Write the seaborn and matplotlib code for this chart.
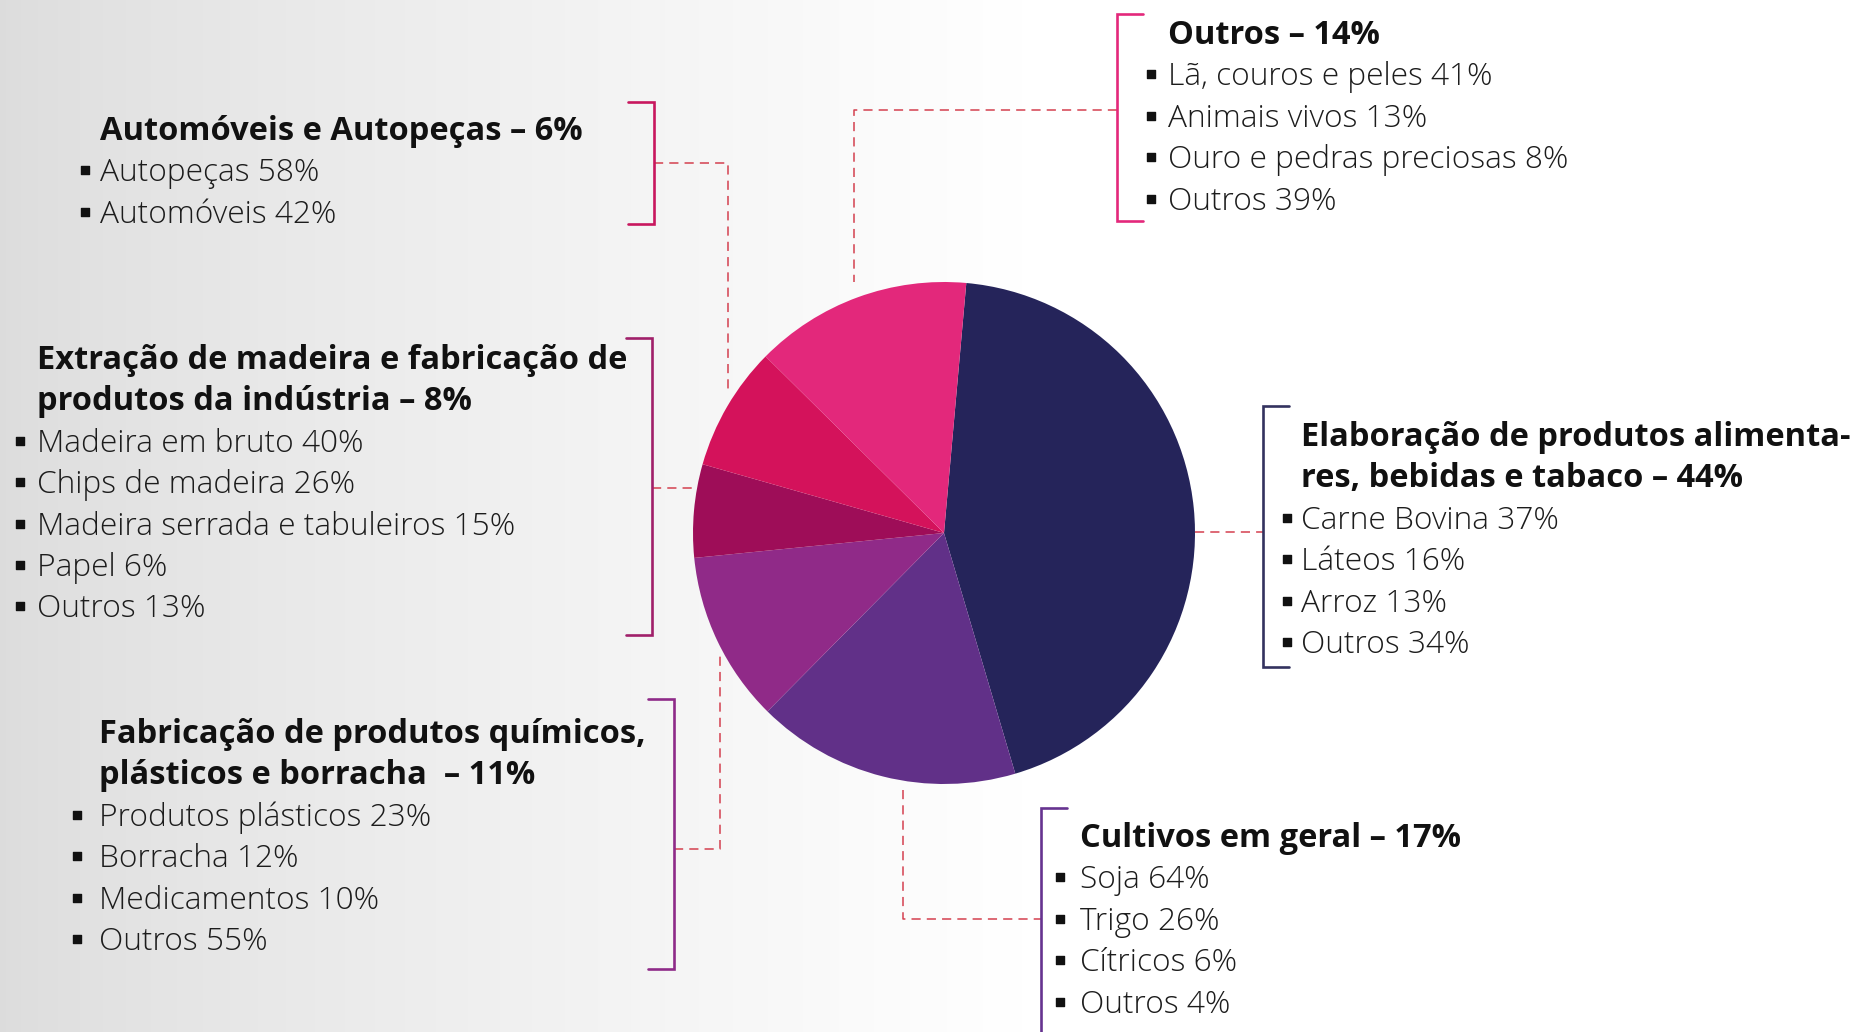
import numpy as np
import matplotlib.pyplot as plt
import seaborn as sns

sns.set_theme(style="white")
plt.rcParams["font.family"] = ["Open Sans", "DejaVu Sans"]

W, H = 1855, 1032

# slices, clockwise from the top
sectors = ["Elaboração de produtos alimentares, bebidas e tabaco", "Cultivos em geral",
           "Fabricação de produtos químicos, plásticos e borracha", "Automóveis e Autopeças",
           "Extração de madeira e fabricação de produtos da indústria", "Outros"]
shares = [44, 17, 11, 6, 8, 14]
pie_colors = ["#25245a", "#613088", "#902a88", "#9e0d58", "#d4125b", "#e3287b"]

outros_head = ["Outros – 14%"]
outros_items = ["Lã, couros e peles 41%", "Animais vivos 13%", "Ouro e pedras preciosas 8%", "Outros 39%"]

auto_head = ["Automóveis e Autopeças – 6%"]
auto_items = ["Autopeças 58%", "Automóveis 42%"]

madeira_head = ["Extração de madeira e fabricação de", "produtos da indústria – 8%"]
madeira_items = ["Madeira em bruto 40%", "Chips de madeira 26%", "Madeira serrada e tabuleiros 15%",
                 "Papel 6%", "Outros 13%"]

quimicos_head = ["Fabricação de produtos químicos,", "plásticos e borracha  – 11%"]
quimicos_items = ["Produtos plásticos 23%", "Borracha 12%", "Medicamentos 10%", "Outros 55%"]

alimentos_head = ["Elaboração de produtos alimenta-", "res, bebidas e tabaco – 44%"]
alimentos_items = ["Carne Bovina 37%", "Láteos 16%", "Arroz 13%", "Outros 34%"]

cultivos_head = ["Cultivos em geral – 17%"]
cultivos_items = ["Soja 64%", "Trigo 26%", "Cítricos 6%", "Outros 4%"]

fig = plt.figure(figsize=(W / 100, H / 100), dpi=100)
ax = fig.add_axes([0, 0, 1, 1])

# grey-to-white background
xs = np.linspace(0, 1, 600)
g = 0.865 + 0.135 * np.clip(xs / 0.55, 0, 1) ** 0.8
bg = np.dstack([g, g, g]).reshape(1, -1, 3)
ax.imshow(bg, extent=[0, W, 0, H], aspect="auto", interpolation="bilinear", zorder=0)

pal = sns.color_palette(pie_colors)
ax.pie(shares, colors=pal, startangle=84.9, counterclock=False,
       center=(944, H - 533), radius=251, wedgeprops=dict(linewidth=0), frame=False)
ax.set_xlim(0, W)
ax.set_ylim(0, H)
ax.set_aspect("auto")
ax.axis("off")

LINE = 41.4
FS_HEAD = 23.5
FS_ITEM = 22.8
dash_col = "#d4404f"


def block(x, y0, head, items, bdx):
    y = y0
    for line in head:
        ax.text(x, H - y - 12, line, fontsize=FS_HEAD, fontweight="bold", color="#111111",
                va="baseline", ha="left", zorder=5)
        y += LINE
    for it in items:
        ax.text(x, H - y - 12, it, fontsize=FS_ITEM, fontweight="light", color="#1c1c1c",
                va="baseline", ha="left", zorder=5)
        ax.scatter([x - bdx], [H - y - 1], marker="s", s=26, color="#111111", zorder=5)
        y += LINE


def bracket(x, y0, y1, tick, color):
    ax.plot([x + tick, x, x, x + tick], [H - y0, H - y0, H - y1, H - y1],
            color=color, lw=1.9, solid_joinstyle="miter", zorder=4)


def dashed(px, py):
    ax.plot(px, [H - v for v in py], color=dash_col, lw=1.1, dashes=(6, 4), zorder=3)


block(1168, 32, outros_head, outros_items, 17)
block(100, 128, auto_head, auto_items, 15)
block(37, 357, madeira_head, madeira_items, 17)
block(99, 731, quimicos_head, quimicos_items, 22)
block(1301, 434, alimentos_head, alimentos_items, 14)
block(1080, 835, cultivos_head, cultivos_items, 20)

bracket(1117, 14, 221, 26, "#e3287b")
bracket(654, 102, 224, -26, "#c8175e")
bracket(652, 338, 635, -26, "#a0206a")
bracket(674, 699, 969, -26, "#8e2a88")
bracket(1263, 406, 667, 26, "#33325f")
bracket(1041, 808, 1045, 26, "#663390")

dashed([1117, 854, 854], [110, 110, 282])
dashed([654, 728, 728], [163, 163, 390])
dashed([652, 694], [488, 488])
dashed([674, 720, 720], [849, 849, 656])
dashed([1195, 1263], [532, 532])
dashed([903, 903, 1041], [790, 919, 919])

fig.savefig("out.png", dpi=100)
